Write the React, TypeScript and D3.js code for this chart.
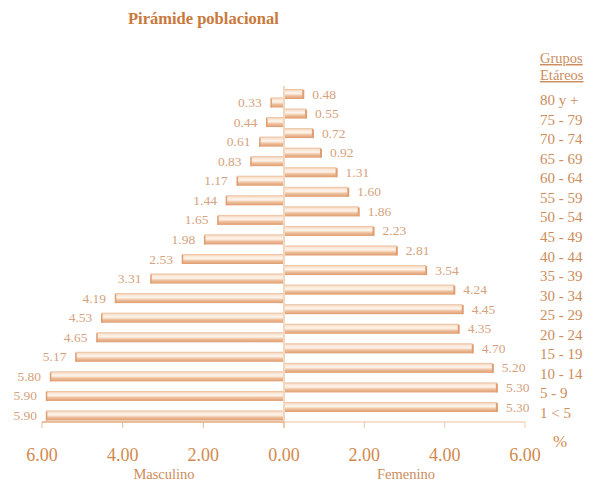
import React from "react";
import * as d3 from "d3";

const categories = ["80 y +", "75 - 79", "70 - 74", "65 - 69", "60 - 64", "55 - 59", "50 - 54", "45 - 49", "40 - 44", "35 - 39", "30 - 34", "25 - 29", "20 - 24", "15 - 19", "10 - 14", "5 - 9", "1 < 5"];
const masculino = [0.33, 0.44, 0.61, 0.83, 1.17, 1.44, 1.65, 1.98, 2.53, 3.31, 4.19, 4.53, 4.65, 5.17, 5.8, 5.9, 5.9];
const femenino = [0.48, 0.55, 0.72, 0.92, 1.31, 1.6, 1.86, 2.23, 2.81, 3.54, 4.24, 4.45, 4.35, 4.7, 5.2, 5.3, 5.3];
const ticks = [0, 2, 4, 6];

const W = 591;
const H = 482;
const CX = 284;
const SERIF = "'Liberation Serif', 'DejaVu Serif', serif";

export default function App() {
  const xL = d3.scaleLinear().domain([0, 6]).range([CX, 42]);
  const xR = d3.scaleLinear().domain([0, 6]).range([CX, 525]);
  const y = d3.scalePoint<string>().domain(categories).range([94, 407]);
  const maleOff = 8.5;
  const barH = 10;
  const axisY = 422;
  const fmt = d3.format(".2f");

  const barColorDark = "#df9d72";
  const valColor = "#d5a27e";
  const tickColor = "#d2894c";
  const catColor = "#cc8d5c";

  return (
    <svg width={W} height={H} style={{ position: "absolute", left: 0, top: 0, background: "#fff" }}>
      <defs>
        <linearGradient id="barGrad" x1="0" y1="0" x2="0" y2="1">
          <stop offset="0" stopColor="#e9bb97" />
          <stop offset="0.2" stopColor="#fae6d5" />
          <stop offset="0.45" stopColor="#fdf4ec" />
          <stop offset="0.7" stopColor="#edbd98" />
          <stop offset="1" stopColor="#df9c70" />
        </linearGradient>
      </defs>

      <text x={128} y={24} fontFamily={SERIF} fontWeight="bold" fontSize={16.5} fill="#c9793a">
        Pirámide poblacional
      </text>

      {/* vertical center axis */}
      <line x1={CX} x2={CX} y1={86} y2={axisY + 6} stroke="#efc8a9" strokeWidth={1.5} />

      {/* female bars */}
      {femenino.map((v, i) => {
        const cy = y(categories[i])!;
        const x1 = xR(v);
        return (
          <g key={"f" + i}>
            <rect x={CX + 1} y={cy - barH / 2} width={x1 - CX - 1} height={barH} fill="url(#barGrad)" />
            <line x1={x1} x2={x1} y1={cy - barH / 2 + 1} y2={cy + barH / 2} stroke={barColorDark} strokeWidth={2} />
            <text x={x1 + 9} y={cy + 4.5} fontFamily={SERIF} fontSize={13.5} fill={valColor}>
              {fmt(v)}
            </text>
          </g>
        );
      })}

      {/* male bars */}
      {masculino.map((v, i) => {
        const cy = y(categories[i])! + maleOff;
        const x1 = xL(v);
        return (
          <g key={"m" + i}>
            <rect x={x1} y={cy - barH / 2} width={CX - 1 - x1} height={barH} fill="url(#barGrad)" />
            <line x1={x1 + 0.5} x2={x1 + 0.5} y1={cy - barH / 2 + 1} y2={cy + barH / 2} stroke={barColorDark} strokeWidth={1.5} />
            <text x={x1 - 9} y={cy + 4.5} textAnchor="end" fontFamily={SERIF} fontSize={13.5} fill={valColor}>
              {fmt(v)}
            </text>
          </g>
        );
      })}

      {/* bottom axis */}
      <line x1={xL(6)} x2={CX} y1={axisY} y2={axisY} stroke="#e2a87c" strokeWidth={1.5} />
      <line x1={CX} x2={xR(6)} y1={axisY} y2={axisY} stroke="#f2d6c0" strokeWidth={1.5} />
      {ticks.map((t) => (
        <g key={"tl" + t}>
          <line x1={xL(t)} x2={xL(t)} y1={axisY} y2={axisY + 6} stroke="#e8bb98" />
          <text x={xL(t)} y={461} textAnchor="middle" fontFamily={SERIF} fontSize={18} fill={tickColor}>
            {fmt(t)}
          </text>
        </g>
      ))}
      {ticks.filter((t) => t > 0).map((t) => (
        <g key={"tr" + t}>
          <line x1={xR(t)} x2={xR(t)} y1={axisY} y2={axisY + 6} stroke="#eecab0" />
          <text x={xR(t)} y={461} textAnchor="middle" fontFamily={SERIF} fontSize={18} fill={tickColor}>
            {fmt(t)}
          </text>
        </g>
      ))}
      <text x={553} y={447} fontFamily={SERIF} fontSize={17} fill={tickColor}>%</text>

      <text x={164} y={479} textAnchor="middle" fontFamily={SERIF} fontSize={14.5} fill={catColor}>Masculino</text>
      <text x={406} y={479} textAnchor="middle" fontFamily={SERIF} fontSize={14.5} fill={catColor}>Femenino</text>

      {/* legend header */}
      <text x={540} y={63} fontFamily={SERIF} fontSize={14.5} fill={catColor} textDecoration="underline">Grupos</text>
      <text x={540} y={80} fontFamily={SERIF} fontSize={14.5} fill={catColor} textDecoration="underline">Etáreos</text>

      {categories.map((c, i) => (
        <text key={"c" + i} x={540} y={y(c)! + 11} fontFamily={SERIF} fontSize={15} fill={catColor}>
          {c}
        </text>
      ))}
    </svg>
  );
}
